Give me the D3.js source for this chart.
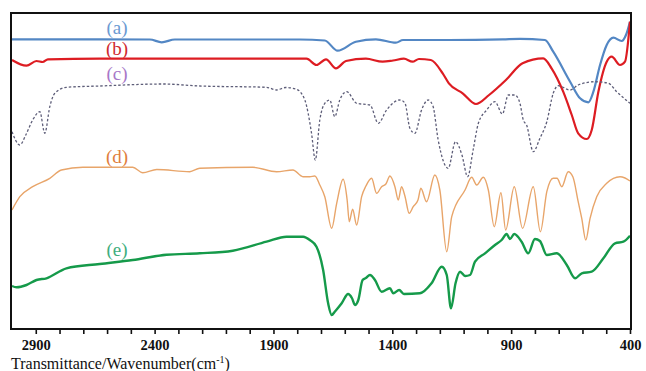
<!DOCTYPE html>
<html>
<head>
<meta charset="utf-8">
<script src="https://cdn.jsdelivr.net/npm/d3@7"></script>
<style>
  html, body { margin: 0; padding: 0; background: #fff; }
  svg { display: block; }
</style>
</head>
<body>
<div id="chart"></div>
<script>
// FTIR spectra, [wavenumber cm-1, transmittance (arbitrary offset units)]
const specA = [[3000,289.7],[2900,289.7],[2631,289.7],[2420,289.5],[2370,286.7],[2315,289.5],[1789,289.5],[1684,288.5],[1630,278.3],[1553,287.3],[1469,289.7],[1385,286.3],[1355,289],[1162,289],[935,289.7],[863,290.2],[758,289],[723,277.3],[652,247.3],[610,230.7],[575,226.7],[554,237.3],[526,264],[498,284],[470,291.3],[435,288],[417,294],[400,307.3]];

const specB = [[3000,269],[2939,263.3],[2897,268],[2871,267],[2849,269.7],[2631,270.3],[2210,270.3],[1761,270.3],[1719,264],[1679,269.7],[1637,260.7],[1595,268],[1511,270.3],[1441,267.3],[1397,268.5],[1351,270.3],[1315,267.3],[1288,270],[1238,269],[1188,255.7],[1162,245.7],[1104,235.7],[1048,225],[993,234],[922,249],[852,265.7],[765,270.7],[730,260.7],[681,237.3],[645,214],[618,195.7],[582,190],[561,199],[533,237.3],[498,267.3],[477,272.3],[442,264],[421,267.3],[400,307.3]];

const specC = [[3000,197.3],[2967,184],[2942,194],[2913,209],[2883,217.3],[2862,195.7],[2841,222.3],[2820,235.7],[2771,241.7],[2631,243],[2365,245],[2210,243],[1929,241.7],[1887,239],[1848,241.5],[1803,239.7],[1768,229],[1740,196],[1724,169],[1705,209],[1684,225.7],[1663,229],[1642,212.3],[1621,229],[1592,237.3],[1550,225.7],[1494,224],[1459,205.7],[1424,219],[1368,229],[1347,226],[1326,200.7],[1305,195.7],[1277,219],[1249,229],[1229,223],[1207,189],[1165,160.7],[1134,187.3],[1107,174],[1083,152.3],[1060,179],[1038,205.7],[1003,219],[968,227.3],[937,215],[912,234],[884,234],[863,225.7],[849,209],[835,204],[807,177.3],[779,190.7],[750,207.3],[723,235.7],[702,243.3],[652,239],[618,244],[547,247.3],[491,245.7],[456,237.3],[400,225.7]];

const specD = [[3000,119],[2967,132.3],[2913,142.3],[2841,150.7],[2792,159],[2702,161.7],[2492,161.7],[2450,156.3],[2391,159.5],[2252,157.3],[2210,160.7],[1987,161.7],[1887,157.3],[1818,159],[1776,152.3],[1747,152.3],[1726,153],[1705,144],[1684,132.3],[1655,100.7],[1634,125.7],[1607,149.7],[1590,129],[1581,107.3],[1567,119.7],[1550,104],[1529,132.3],[1511,143],[1487,150.7],[1466,135.7],[1445,142.3],[1427,145],[1410,153],[1389,142.3],[1375,129],[1361,142.3],[1347,133],[1329,115.7],[1312,122.3],[1292,129],[1280,140.7],[1256,127.3],[1221,154],[1200,139],[1171,77.3],[1150,112.3],[1094,139],[1066,151.7],[1045,144],[1017,151.7],[996,139],[971,102.3],[943,136.3],[923,99],[887,142.3],[852,100.7],[807,142.3],[777,97.3],[750,137.3],[723,150.7],[707,150.7],[687,142.3],[660,157.3],[640,152],[618,127.3],[603,110.7],[586,89],[568,110.7],[540,132.3],[498,145.7],[442,152.3],[421,151],[400,148]];

const specE = [[3000,43],[2981,41.7],[2939,44],[2897,49],[2855,50.7],[2771,60.7],[2631,65],[2492,69],[2350,74.3],[2210,75.7],[2071,78.3],[1929,87.3],[1845,92.3],[1775,92.3],[1747,89],[1719,82.3],[1691,59],[1670,25.7],[1655,14],[1642,17.3],[1613,25.7],[1586,35],[1570,31],[1557,24],[1543,29],[1525,49],[1511,51],[1494,54],[1473,49],[1445,37.3],[1410,40.7],[1396,35.7],[1371,39],[1351,35],[1284,35.7],[1235,45.7],[1192,62.3],[1171,54],[1153,20.7],[1134,45.7],[1115,57.3],[1094,53],[1073,54],[1052,67.3],[1010,75.7],[968,84],[940,89],[919,95],[905,90],[887,95],[856,87.3],[828,75.7],[800,90],[779,88],[750,74],[708,75.7],[666,64],[631,50.7],[603,55.7],[561,57.3],[512,70.7],[463,85.7],[428,87.3],[400,93.3]];

const seriesNames = ['(a)', '(b)', '(c)', '(d)', '(e)'];
const labelValues = [300, 279, 254, 171, 78];   // label height, same units as the spectra
const labelWn = 2558;
const tickValues = d3.range(2900, 399, -100);
const tickLabels = [2900, 2400, 1900, 1400, 900, 400];

const width = 646, height = 371;
const margin = { top: 13, right: 16, bottom: 42, left: 12 };

const x = d3.scaleLinear().domain([3000, 400]).range([margin.left, width - margin.right]);
const y = d3.scaleLinear().domain([0, 316]).range([height - margin.bottom, margin.top]);

const svg = d3.select('#chart').append('svg')
    .attr('width', width)
    .attr('height', height);

const styles = [
    { data: specA, stroke: '#5387c4', width: 2.2, dash: null, label: '#6b9ad2' },
    { data: specB, stroke: '#dd1c22', width: 2.2, dash: null, label: '#cf2a30' },
    { data: specC, stroke: '#5d5d78', width: 1.3, dash: '2.5,2', label: '#a878c8' },
    { data: specD, stroke: '#e8a56a', width: 1.4, dash: null, label: '#e07e3c' },
    { data: specE, stroke: '#159a4a', width: 2.4, dash: null, label: '#3fae7e' }
];

const line = d3.line()
    .x(d => x(d[0]))
    .y(d => y(d[1]))
    .curve(d3.curveMonotoneX);

styles.forEach((s, i) => {
    svg.append('path')
        .datum(s.data)
        .attr('fill', 'none')
        .attr('stroke', s.stroke)
        .attr('stroke-width', s.width)
        .attr('stroke-dasharray', s.dash)
        .attr('stroke-linejoin', 'round')
        .attr('d', line);

    svg.append('text')
        .attr('x', x(labelWn))
        .attr('y', y(labelValues[i]) + 5)
        .attr('text-anchor', 'middle')
        .attr('font-family', '"Liberation Serif", serif')
        .attr('font-size', 19)
        .attr('fill', s.label)
        .text(seriesNames[i]);
});

// frame
svg.append('rect')
    .attr('x', margin.left - 1)
    .attr('y', margin.top)
    .attr('width', width - margin.right - margin.left + 2)
    .attr('height', height - margin.bottom - margin.top)
    .attr('fill', 'none')
    .attr('stroke', '#111')
    .attr('stroke-width', 2);

// x axis
const xAxis = svg.append('g')
    .attr('transform', `translate(0,${height - margin.bottom})`)
    .call(d3.axisBottom(x)
        .tickValues(tickValues)
        .tickSize(5)
        .tickPadding(6)
        .tickFormat(d => tickLabels.includes(d) ? d : ''));

xAxis.select('.domain').remove();
xAxis.selectAll('.tick line').attr('stroke', '#111').attr('stroke-width', 1.6);
xAxis.selectAll('.tick text')
    .attr('font-family', '"Liberation Serif", serif')
    .attr('font-weight', 'bold')
    .attr('font-size', 14.5)
    .attr('fill', '#111');

// axis title
const title = svg.append('text')
    .attr('x', margin.left - 1)
    .attr('y', height - 2)
    .attr('font-family', '"Liberation Serif", serif')
    .attr('font-size', 16)
    .attr('fill', '#111');
title.append('tspan').text('Transmittance/Wavenumber(cm');
title.append('tspan').attr('font-size', 10).attr('dy', -6).text('-1');
title.append('tspan').attr('dy', 6).text(')');
</script>
</body>
</html>
